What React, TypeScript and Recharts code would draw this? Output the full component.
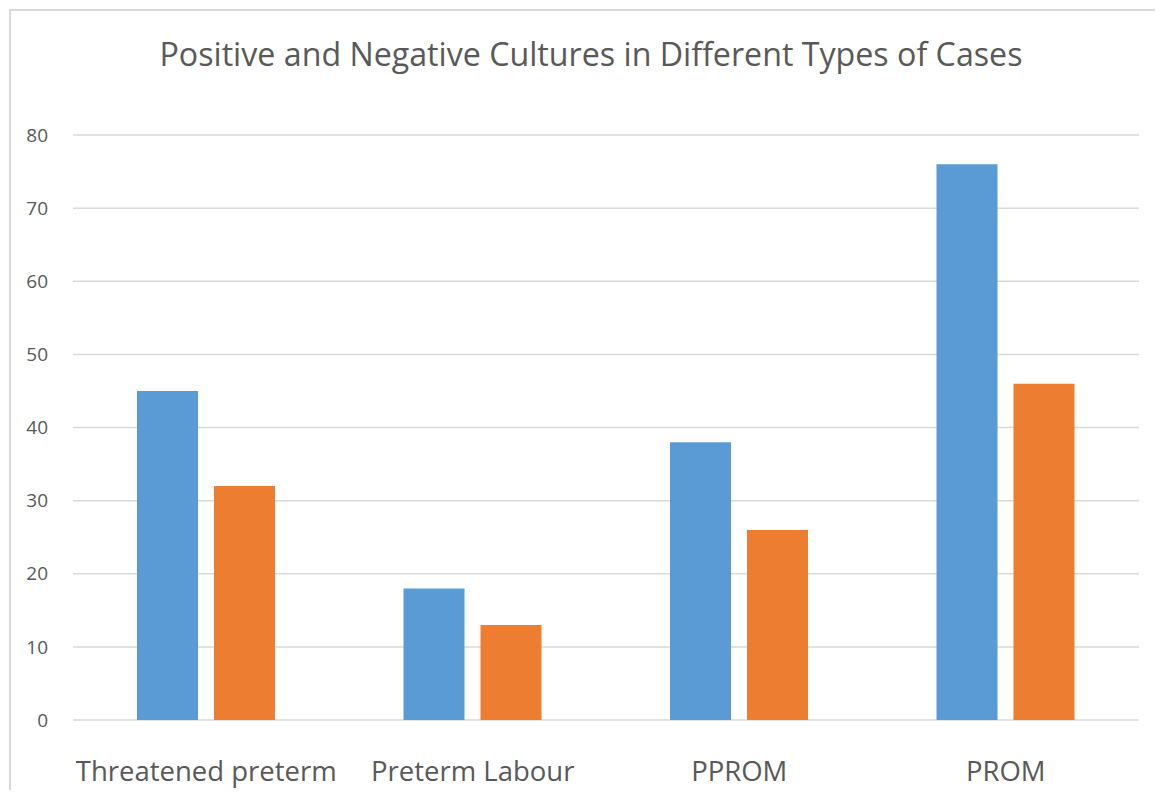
import React from "react";
import { BarChart, Bar, XAxis, YAxis, CartesianGrid } from "recharts";

const categories = ["Threatened preterm", "Preterm Labour", "PPROM", "PROM"];
const positiveValues = [45, 18, 38, 76];
const negativeValues = [32, 13, 26, 46];
const yTicks = [0, 10, 20, 30, 40, 50, 60, 70, 80];

const data = categories.map((name, i) => ({
  name,
  positive: positiveValues[i],
  negative: negativeValues[i],
}));

const FONT = "'Open Sans', sans-serif";
const TEXT = "#595959";

export default function App() {
  return (
    <div style={{ position: "relative", margin: -8, width: 1163, height: 798, overflow: "hidden", background: "#fff" }}>
      <div
        style={{
          position: "absolute",
          left: 9,
          top: 9,
          width: 1200,
          height: 900,
          border: "2px solid #d9d9d9",
          boxSizing: "border-box",
        }}
      />
      <div
        style={{
          position: "absolute",
          left: 0,
          width: 1182,
          top: 34,
          textAlign: "center",
          fontFamily: FONT,
          fontSize: 32.2,
          color: TEXT,
          lineHeight: "40px",
          whiteSpace: "nowrap",
        }}
      >
        Positive and Negative Cultures in Different Types of Cases
      </div>
      <div style={{ position: "absolute", left: 0, top: 0 }}>
        <BarChart
          width={1163}
          height={798}
          data={data}
          margin={{ top: 135, right: 24, bottom: 0, left: 0 }}
          barGap={16}
          barSize={61}
        >
          <CartesianGrid vertical={false} stroke="#d9d9d9" strokeWidth={1.5} />
          <XAxis
            dataKey="name"
            height={78}
            axisLine={false}
            tickLine={false}
            tickMargin={35}
            tick={{ fill: TEXT, fontSize: 27.5, fontFamily: FONT }}
            interval={0}
          />
          <YAxis
            width={73}
            domain={[0, 80]}
            ticks={yTicks}
            axisLine={false}
            tickLine={false}
            tickMargin={19}
            tick={{ fill: TEXT, fontSize: 19, fontFamily: FONT }}
            interval={0}
          />
          <Bar dataKey="positive" fill="#5b9bd5" isAnimationActive={false} />
          <Bar dataKey="negative" fill="#ed7d31" isAnimationActive={false} />
        </BarChart>
      </div>
    </div>
  );
}
